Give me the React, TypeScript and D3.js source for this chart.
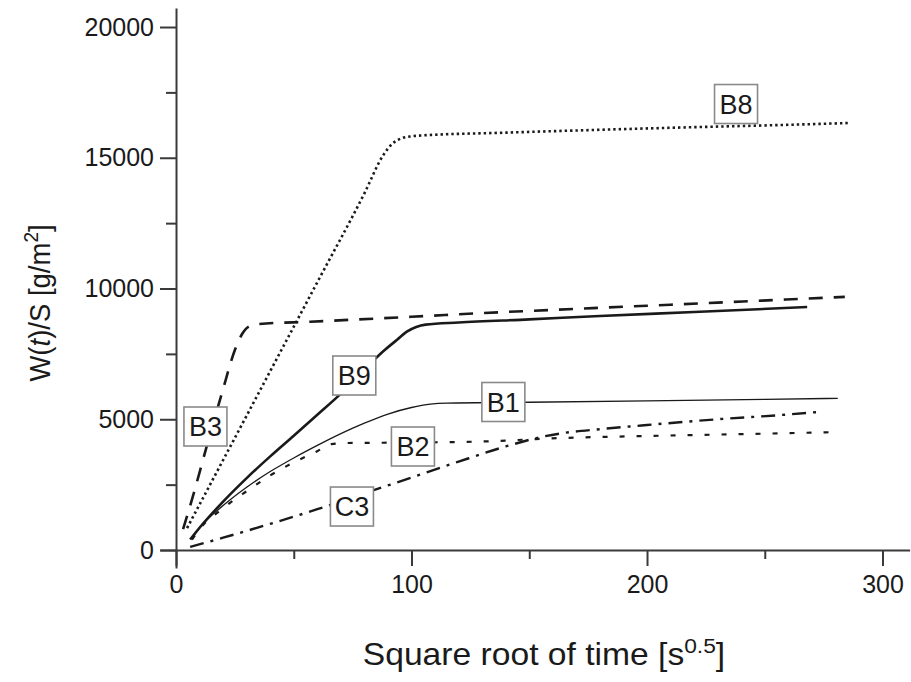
import React, { useEffect, useRef } from 'react';
import * as d3 from 'd3';

// x = square root of time [s^0.5], y = W(t)/S [g/m2]
const b8X = [4.7, 20, 40, 60, 80, 88, 92, 96, 100, 104, 140, 180, 220, 260, 286];
const b8Y = [840, 3440, 6840, 10240, 13640, 15100, 15550, 15750, 15820, 15850, 15960, 16070, 16170, 16260, 16330];

const b3X = [3, 7, 13, 19.5, 25, 28, 31, 35, 57, 100, 130, 177, 230, 284];
const b3Y = [800, 2000, 3950, 6000, 7650, 8250, 8550, 8640, 8730, 8920, 9060, 9250, 9460, 9680];

const b9X = [6, 10, 20, 30, 40, 50, 60, 70, 80, 88, 94, 98, 102, 106, 120, 150, 180, 220, 268];
const b9Y = [400, 850, 1850, 2750, 3580, 4370, 5170, 5980, 6900, 7600, 8050, 8350, 8530, 8620, 8700, 8820, 8950, 9100, 9290];

const b1X = [6.8, 10, 20, 30, 40, 50, 60, 70, 80, 90, 100, 108, 115, 150, 200, 250, 281];
const b1Y = [450, 850, 1700, 2400, 3000, 3520, 4000, 4450, 4850, 5200, 5450, 5580, 5620, 5650, 5700, 5760, 5800];

const b2X = [6.8, 10, 20, 30, 40, 50, 60, 66, 72, 100, 130, 163, 200, 250, 281];
const b2Y = [400, 800, 1600, 2250, 2850, 3350, 3780, 4050, 4090, 4110, 4150, 4280, 4360, 4450, 4510];

const c3X = [6, 20, 40, 60, 80, 100, 120, 140, 155, 165, 180, 200, 230, 255, 273];
const c3Y = [120, 470, 1000, 1560, 2170, 2770, 3380, 3960, 4320, 4480, 4620, 4780, 5000, 5150, 5280];

const labelNames = ['B8', 'B3', 'B9', 'B1', 'B2', 'C3'];
const labelX = [237.8, 12.5, 75.7, 139, 100.6, 74.7];
const labelY = [17055, 4723, 6673, 5660, 3958, 1663];

const yMajor = [0, 5000, 10000, 15000, 20000];
const yMinor = [2500, 7500, 12500, 17500];
const xMajor = [0, 100, 200, 300];
const xMinor = [50, 150, 250];

const App = () => {
  const chartRef = useRef<SVGSVGElement>(null);

  useEffect(() => {
    const width = 911;
    const height = 682;
    const svg = d3.select(chartRef.current);
    svg.selectAll('*').remove();
    svg.attr('width', width).attr('height', height);

    const x = d3.scaleLinear().domain([-6.8, 311.5]).range([160, 909.6]);
    const y = d3.scaleLinear().domain([-688, 20727]).range([568, 8]);

    const ink = '#1a1a1a';
    const axisColor = '#3a3a3a';
    const font = '"Liberation Sans", Arial, sans-serif';

    // curves
    const series = [
      { xs: b8X, ys: b8Y, dash: '2.4,3', w: 2.6 },
      { xs: b3X, ys: b3Y, dash: '14,11', w: 2.6 },
      { xs: b9X, ys: b9Y, dash: null, w: 2.6 },
      { xs: b1X, ys: b1Y, dash: null, w: 1.3 },
      { xs: b2X, ys: b2Y, dash: '5,12', w: 2.2 },
      { xs: c3X, ys: c3Y, dash: '14,7,3,7', w: 2.4 },
    ];

    const line = d3.line<[number, number]>()
      .x(d => x(d[0]))
      .y(d => y(d[1]))
      .curve(d3.curveMonotoneX);

    series.forEach(s => {
      const pts = s.xs.map((v, i) => [v, s.ys[i]] as [number, number]);
      svg.append('path')
        .attr('d', line(pts))
        .attr('fill', 'none')
        .attr('stroke', ink)
        .attr('stroke-width', s.w)
        .attr('stroke-dasharray', s.dash)
        .attr('stroke-linejoin', 'round');
    });

    // axes
    const yAxisG = svg.append('g')
      .attr('transform', `translate(${x(0)},0)`)
      .call(d3.axisLeft(y).tickValues(yMajor).tickFormat(d3.format('d')).tickSize(16).tickSizeOuter(0).tickPadding(6));
    svg.append('g')
      .attr('transform', `translate(${x(0)},0)`)
      .call(d3.axisLeft(y).tickValues(yMinor).tickSize(10).tickSizeOuter(0).tickFormat(() => ''))
      .select('.domain').remove();

    const xAxisG = svg.append('g')
      .attr('transform', `translate(0,${y(0)})`)
      .call(d3.axisBottom(x).tickValues(xMajor).tickFormat(d3.format('d')).tickSize(16).tickSizeOuter(0).tickPadding(9));
    svg.append('g')
      .attr('transform', `translate(0,${y(0)})`)
      .call(d3.axisBottom(x).tickValues(xMinor).tickSize(9).tickSizeOuter(0).tickFormat(() => ''))
      .select('.domain').remove();

    svg.selectAll('.domain, .tick line')
      .attr('stroke', axisColor)
      .attr('stroke-width', 2);
    [yAxisG, xAxisG].forEach(g => g.selectAll('text')
      .attr('fill', ink)
      .style('font-family', font)
      .style('font-size', '25px'));

    // labels
    labelNames.forEach((name, i) => {
      const cx = x(labelX[i]);
      const cy = y(labelY[i]);
      const g = svg.append('g').attr('transform', `translate(${cx},${cy})`);
      g.append('rect')
        .attr('x', -21.5)
        .attr('y', -19.5)
        .attr('width', 43)
        .attr('height', 39)
        .attr('fill', 'white')
        .attr('stroke', '#8a8a8a')
        .attr('stroke-width', 1.6);
      g.append('text')
        .attr('text-anchor', 'middle')
        .attr('dy', '0.36em')
        .attr('fill', ink)
        .style('font-family', font)
        .style('font-size', '27px')
        .text(name);
    });

    // axis titles (the original is a little stretched horizontally)
    const xt = svg.append('text')
      .attr('transform', 'translate(544,665) scale(1.085,1)')
      .attr('text-anchor', 'middle')
      .attr('fill', ink)
      .style('font-family', font)
      .style('font-size', '31px');
    xt.append('tspan').text('Square root of time [s');
    xt.append('tspan').attr('dy', -12).style('font-size', '21px').text('0.5');
    xt.append('tspan').attr('dy', 12).text(']');

    const yt = svg.append('text')
      .attr('transform', 'translate(50,303) scale(1.08,1) rotate(-90)')
      .attr('text-anchor', 'middle')
      .attr('fill', ink)
      .style('font-family', font)
      .style('font-size', '27.5px');
    yt.append('tspan').text('W(');
    yt.append('tspan').style('font-style', 'italic').text('t');
    yt.append('tspan').text(')/S [g/m');
    yt.append('tspan').attr('dy', -11).style('font-size', '19px').text('2');
    yt.append('tspan').attr('dy', 11).text(']');
  }, []);

  return (
    <svg ref={chartRef} style={{ position: 'absolute', left: 0, top: 0, background: 'white' }} />
  );
};

export default App;
